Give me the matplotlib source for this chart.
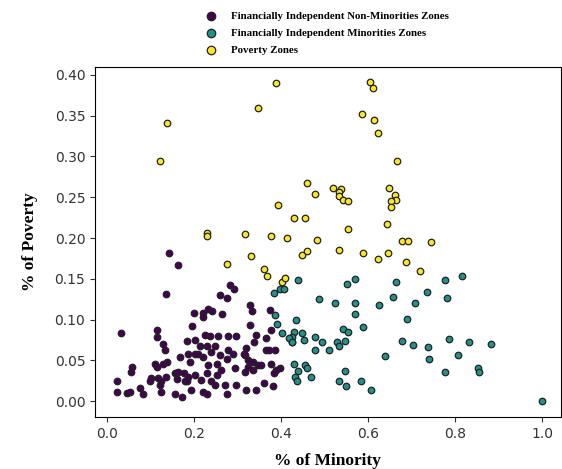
import matplotlib
matplotlib.use('Agg')
import matplotlib.pyplot as plt
import numpy as np

# % of minority, % of poverty for each group
poverty = [
    (0.122, 0.294), (0.139, 0.341), (0.229, 0.206), (0.230, 0.203), (0.317, 0.205),
    (0.347, 0.360), (0.388, 0.390), (0.377, 0.202), (0.414, 0.200), (0.482, 0.198),
    (0.394, 0.241), (0.430, 0.224), (0.455, 0.224), (0.459, 0.268), (0.479, 0.254),
    (0.330, 0.178), (0.277, 0.168), (0.449, 0.179), (0.460, 0.184), (0.362, 0.162),
    (0.367, 0.154), (0.402, 0.146), (0.409, 0.151), (0.519, 0.261), (0.537, 0.260),
    (0.534, 0.257), (0.533, 0.251), (0.542, 0.247), (0.553, 0.246), (0.555, 0.211),
    (0.534, 0.185), (0.588, 0.181), (0.622, 0.174), (0.646, 0.181), (0.644, 0.217),
    (0.586, 0.352), (0.605, 0.391), (0.611, 0.384), (0.614, 0.345), (0.624, 0.329),
    (0.667, 0.295), (0.649, 0.261), (0.663, 0.253), (0.664, 0.247), (0.654, 0.245),
    (0.652, 0.238), (0.677, 0.196), (0.692, 0.196), (0.745, 0.195), (0.687, 0.171),
    (0.719, 0.160),
]

minorities = [
    (0.440, 0.148), (0.551, 0.144), (0.570, 0.150), (0.664, 0.146), (0.487, 0.125),
    (0.523, 0.120), (0.569, 0.120), (0.626, 0.118), (0.658, 0.128), (0.709, 0.120),
    (0.569, 0.107), (0.435, 0.099), (0.689, 0.101), (0.589, 0.091), (0.542, 0.088),
    (0.553, 0.085), (0.430, 0.085), (0.426, 0.078), (0.426, 0.072), (0.449, 0.083),
    (0.453, 0.075), (0.478, 0.079), (0.494, 0.073), (0.478, 0.063), (0.510, 0.063),
    (0.529, 0.073), (0.534, 0.067), (0.547, 0.074), (0.677, 0.074), (0.704, 0.069),
    (0.638, 0.055), (0.430, 0.045), (0.456, 0.044), (0.459, 0.040), (0.440, 0.037),
    (0.433, 0.029), (0.436, 0.025), (0.469, 0.029), (0.547, 0.037), (0.533, 0.025),
    (0.550, 0.019), (0.583, 0.025), (0.608, 0.013), (0.776, 0.148), (0.817, 0.153),
    (0.735, 0.134), (0.781, 0.126), (0.739, 0.066), (0.786, 0.076), (0.833, 0.072),
    (0.883, 0.070), (0.807, 0.057), (0.741, 0.051), (0.776, 0.035), (0.852, 0.041),
    (0.856, 0.035), (0.999, 0.000), (0.385, 0.132), (0.398, 0.137), (0.408, 0.137),
    (0.386, 0.106), (0.390, 0.095), (0.403, 0.083), (0.418, 0.077), (0.425, 0.073),
]

non_minorities = [
    (0.143, 0.181), (0.164, 0.167), (0.135, 0.131), (0.032, 0.084),
    (0.282, 0.142), (0.292, 0.138), (0.259, 0.130), (0.275, 0.126),
    (0.232, 0.113), (0.242, 0.110), (0.221, 0.108), (0.200, 0.108), (0.221, 0.103), (0.265, 0.107),
    (0.328, 0.118), (0.334, 0.110), (0.374, 0.112), (0.378, 0.087), (0.328, 0.093), (0.196, 0.092),
    (0.114, 0.087), (0.116, 0.078), (0.129, 0.070), (0.133, 0.063),
    (0.183, 0.074), (0.202, 0.075), (0.225, 0.081), (0.236, 0.080), (0.255, 0.080), (0.278, 0.080),
    (0.297, 0.080), (0.343, 0.081), (0.366, 0.077), (0.339, 0.072), (0.320, 0.065), (0.366, 0.063),
    (0.373, 0.063), (0.386, 0.063), (0.213, 0.067), (0.229, 0.067), (0.248, 0.067), (0.278, 0.063),
    (0.289, 0.058), (0.259, 0.056), (0.209, 0.058), (0.221, 0.054), (0.238, 0.060), (0.202, 0.058),
    (0.186, 0.058), (0.167, 0.054), (0.317, 0.056), (0.324, 0.050), (0.336, 0.048), (0.347, 0.044),
    (0.355, 0.044), (0.232, 0.044), (0.252, 0.046), (0.263, 0.038), (0.294, 0.040), (0.317, 0.036),
    (0.336, 0.038), (0.378, 0.046), (0.397, 0.041), (0.389, 0.038), (0.385, 0.034),
    (0.138, 0.048), (0.129, 0.046), (0.110, 0.046), (0.114, 0.042), (0.057, 0.042), (0.055, 0.035),
    (0.156, 0.034), (0.164, 0.036), (0.177, 0.034), (0.186, 0.030), (0.202, 0.032), (0.229, 0.034),
    (0.102, 0.028), (0.099, 0.024), (0.118, 0.028), (0.125, 0.024), (0.122, 0.020),
    (0.022, 0.024), (0.022, 0.011), (0.045, 0.010), (0.053, 0.011), (0.076, 0.016), (0.083, 0.009),
    (0.125, 0.011), (0.156, 0.009), (0.173, 0.005), (0.179, 0.024), (0.194, 0.013),
    (0.217, 0.026), (0.240, 0.024), (0.248, 0.020), (0.271, 0.020), (0.297, 0.020), (0.320, 0.013),
    (0.362, 0.022), (0.381, 0.018), (0.343, 0.013), (0.221, 0.011), (0.229, 0.009), (0.275, 0.009),
    (0.161, 0.027), (0.183, 0.025), (0.252, 0.032), (0.275, 0.052), (0.190, 0.048), (0.135, 0.030),
    (0.324, 0.042), (0.314, 0.058),
]

labels = ['Financially Independent Non-Minorities Zones',
          'Financially Independent Minorities Zones',
          'Poverty Zones']
groups = [non_minorities, minorities, poverty]
colors = ['#440154', '#21918c', '#fde725']

serif = 'Liberation Serif'

fig = plt.figure(figsize=(5.62, 4.69), dpi=100)
ax = fig.add_axes([95/562, 52/469, 466/562, 350/469])

handles = []
for pts, col, lab in zip(groups, colors, labels):
    a = np.array(pts)
    h = ax.scatter(a[:, 0], a[:, 1], s=22, c=col, edgecolors='#222222',
                   linewidths=0.9, label=lab)
    handles.append(h)

ax.set_xlim(-0.0275, 1.0436)
ax.set_ylim(-0.0196, 0.4098)
ax.set_xticks([0.0, 0.2, 0.4, 0.6, 0.8, 1.0])
ax.set_yticks(np.arange(0, 0.41, 0.05))
ax.yaxis.set_major_formatter(matplotlib.ticker.FormatStrFormatter('%.2f'))
ax.tick_params(labelsize=10, colors='#333333')

ax.set_xlabel('% of Minority', fontsize=12.5, fontweight='bold', family=serif, labelpad=9)
ax.set_ylabel('% of Poverty', fontsize=12.5, fontweight='bold', family=serif, labelpad=12)

fig.legend(handles=handles, loc='upper left', bbox_to_anchor=(196/562, 1 - 7/469),
           frameon=False, prop={'family': serif, 'weight': 'bold', 'size': 7.8},
           handletextpad=0.8, labelspacing=0.7, markerscale=1.3, borderaxespad=0)

fig.savefig('out.png', dpi=100)
